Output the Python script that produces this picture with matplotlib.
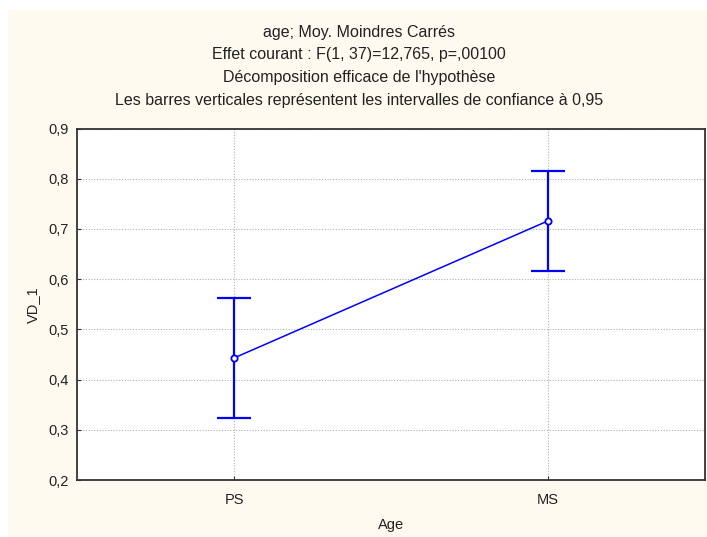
import matplotlib
matplotlib.use("Agg")
import matplotlib.pyplot as plt
from matplotlib.patches import Rectangle

categories = ["PS", "MS"]
means = [0.443, 0.716]
ci_half = [0.119, 0.100]
yticks = [0.2, 0.3, 0.4, 0.5, 0.6, 0.7, 0.8, 0.9]
ytick_labels = ["0,2", "0,3", "0,4", "0,5", "0,6", "0,7", "0,8", "0,9"]
title_lines = [
    "age; Moy. Moindres Carrés",
    "Effet courant : F(1, 37)=12,765, p=,00100",
    "Décomposition efficace de l'hypothèse",
    "Les barres verticales représentent les intervalles de confiance à 0,95",
]

plt.rcParams['font.family'] = ['Liberation Sans', 'DejaVu Sans']

W, H = 707, 537
fig = plt.figure(figsize=(W / 100, H / 100), dpi=100, facecolor='white')
fig.patches.append(Rectangle((8 / W, 0), 1 - 8 / W, 1 - 10 / H, transform=fig.transFigure,
                             facecolor='#FFFAF0', edgecolor='none', zorder=-5))

ax = fig.add_axes([77 / W, 1 - 480 / H, (705 - 77) / W, (480 - 128.5) / H], zorder=2)
ax.set_facecolor('white')
x = list(range(len(categories)))
ax.plot(x, means, color='#0000FF', lw=1.1, zorder=3)
ax.errorbar(x, means, yerr=ci_half, fmt='none', ecolor='#0000FF', elinewidth=1.6,
            capsize=12, capthick=1.6, zorder=3)
ax.plot(x, means, 'o', ms=4.5, mfc='white', mec='#0000FF', mew=1.3, zorder=4)

ax.set_xlim(-0.5, 1.5)
ax.set_ylim(0.2, 0.9)
ax.set_xticks(x)
ax.set_xticklabels(categories)
ax.set_yticks(yticks)
ax.set_yticklabels(ytick_labels)
ax.tick_params(direction='in', length=3, width=0.8, color='#333333', labelsize=10.5,
               labelcolor='#222222')
ax.tick_params(axis='x', pad=9)
ax.tick_params(axis='y', pad=6)
ax.grid(True, linestyle=(0, (1, 1.5)), color='#b0b0b0', lw=0.8)
for s in ax.spines.values():
    s.set_color('#333333')
    s.set_linewidth(1.3)

ax.set_xlabel("Age", fontsize=10.5, color='#222222', labelpad=8)
ax.set_ylabel("VD_1", fontsize=10.5, color='#222222', labelpad=6)

ys = [32.3, 55, 77.3, 100.7]
for t, yy in zip(title_lines, ys):
    fig.text(359 / W, 1 - yy / H, t, ha='center', va='center', fontsize=11.5, color='#222222')

fig.savefig("out.png", dpi=100, facecolor=fig.get_facecolor())
